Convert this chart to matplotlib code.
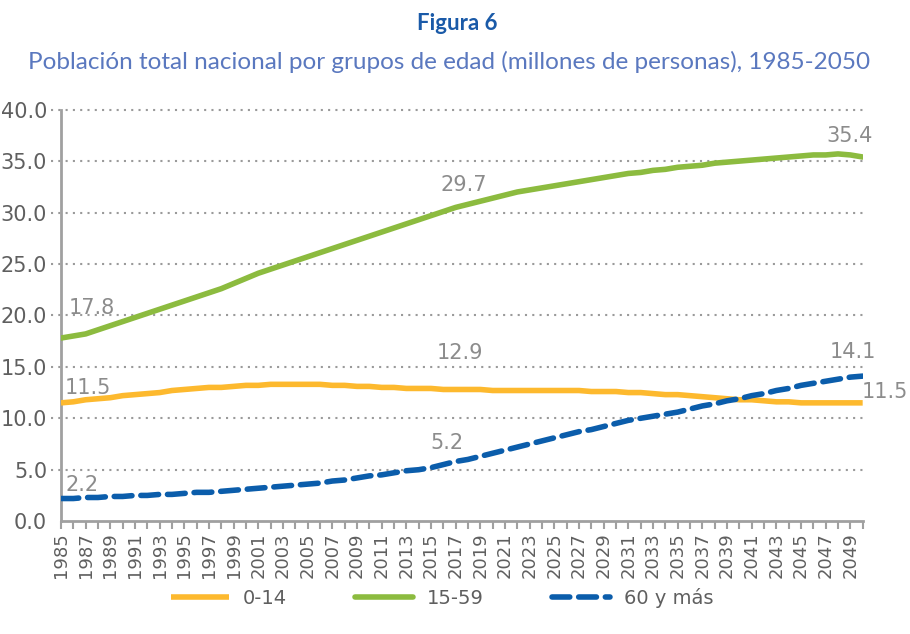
import numpy as np
import matplotlib
matplotlib.use("Agg")
import matplotlib.pyplot as plt

# Datos (millones de personas)
years = list(range(1985, 2051))

edad_0_14 = [11.5, 11.6, 11.8, 11.9, 12.0, 12.2, 12.3, 12.4, 12.5, 12.7,
             12.8, 12.9, 13.0, 13.0, 13.1, 13.2, 13.2, 13.3, 13.3, 13.3,
             13.3, 13.3, 13.2, 13.2, 13.1, 13.1, 13.0, 13.0, 12.9, 12.9,
             12.9, 12.8, 12.8, 12.8, 12.8, 12.7, 12.7, 12.7, 12.7, 12.7,
             12.7, 12.7, 12.7, 12.6, 12.6, 12.6, 12.5, 12.5, 12.4, 12.3,
             12.3, 12.2, 12.1, 12.0, 11.9, 11.8, 11.8, 11.7, 11.6, 11.6,
             11.5, 11.5, 11.5, 11.5, 11.5, 11.5]

edad_15_59 = [17.8, 18.0, 18.2, 18.6, 19.0, 19.4, 19.8, 20.2, 20.6, 21.0,
              21.4, 21.8, 22.2, 22.6, 23.1, 23.6, 24.1, 24.5, 24.9, 25.3,
              25.7, 26.1, 26.5, 26.9, 27.3, 27.7, 28.1, 28.5, 28.9, 29.3,
              29.7, 30.1, 30.5, 30.8, 31.1, 31.4, 31.7, 32.0, 32.2, 32.4,
              32.6, 32.8, 33.0, 33.2, 33.4, 33.6, 33.8, 33.9, 34.1, 34.2,
              34.4, 34.5, 34.6, 34.8, 34.9, 35.0, 35.1, 35.2, 35.3, 35.4,
              35.5, 35.6, 35.6, 35.7, 35.6, 35.4]

edad_60_mas = [2.2, 2.2, 2.3, 2.3, 2.4, 2.4, 2.5, 2.5, 2.6, 2.6,
               2.7, 2.8, 2.8, 2.9, 3.0, 3.1, 3.2, 3.3, 3.4, 3.5,
               3.6, 3.7, 3.9, 4.0, 4.2, 4.4, 4.5, 4.7, 4.9, 5.0,
               5.2, 5.5, 5.8, 6.0, 6.3, 6.6, 6.9, 7.2, 7.5, 7.8,
               8.1, 8.4, 8.7, 8.9, 9.2, 9.5, 9.8, 10.0, 10.2, 10.4,
               10.6, 10.9, 11.2, 11.4, 11.7, 11.9, 12.2, 12.4, 12.7, 12.9,
               13.2, 13.4, 13.6, 13.8, 14.0, 14.1]

tick_years = list(range(1985, 2050, 2))

gray = "#5f5f5f"
label_gray = "#8c8c8c"
c_orange = "#FDB92E"
c_green = "#8CBB3F"
c_blue = "#0B5DAB"

fig = plt.figure(figsize=(9.1, 6.34), dpi=100)
ax = fig.add_axes([0.067, 0.178, 0.881, 0.649])

# Líneas
ax.plot(years, edad_0_14, color=c_orange, lw=4, solid_capstyle="butt", label="0-14", zorder=3)
ax.plot(years, edad_15_59, color=c_green, lw=4, solid_capstyle="round", label="15-59", zorder=3)
ax.plot(years, edad_60_mas, color=c_blue, lw=4, ls=(0, (3.2, 1.6)), dash_capstyle="round",
        label="60 y más", zorder=3)

# Cuadrícula punteada
for v in np.arange(5, 45, 5):
    ax.axhline(v, xmin=-0.012, xmax=1.0, color="#9a9a9a", ls=(0, (1, 2.5)), lw=1.5,
               clip_on=False, zorder=1)

ax.set_xlim(1985, 2050)
ax.set_ylim(0, 40)
ax.set_yticks(np.arange(0, 45, 5))
ax.set_yticklabels([f"{v:.1f}" for v in np.arange(0, 45, 5)])
ax.set_xticks(tick_years)
ax.set_xticklabels([str(y) for y in tick_years], rotation=90)
ax.set_xticks(years, minor=True)

for s in ["top", "right"]:
    ax.spines[s].set_visible(False)
for s in ["left", "bottom"]:
    ax.spines[s].set_color("#a0a0a0")
    ax.spines[s].set_linewidth(2)

ax.tick_params(axis="y", length=0, pad=10, labelsize=15, labelcolor=gray)
ax.tick_params(axis="x", which="both", direction="out", length=6, width=1.5,
               color="#a0a0a0", labelsize=13, labelcolor=gray, pad=2)
ax.tick_params(axis="x", which="minor", labelbottom=False)

# Etiquetas de datos (desplazamientos en píxeles)
labels = [
    (edad_15_59, 1985, 31, 30), (edad_0_14, 1985, 27, 15), (edad_60_mas, 1985, 21, 14),
    (edad_15_59, 2015, 33, 31), (edad_0_14, 2015, 29, 35), (edad_60_mas, 2015, 16, 25),
    (edad_15_59, 2050, -13, 21), (edad_60_mas, 2050, -10, 24), (edad_0_14, 2050, 22, 11),
]
for serie, yr, dx, dy in labels:
    val = serie[years.index(yr)]
    ax.annotate(f"{val:.1f}", (yr, val), xytext=(dx, dy), textcoords="offset pixels",
                ha="center", va="center", fontsize=15, color=label_gray,
                annotation_clip=False, zorder=4)

# Títulos
fig.text(0.503, 0.963, "Figura 6", ha="center", va="center", fontsize=16,
         fontweight="bold", color="#1a5aa8", family="Lato")
fig.text(0.493, 0.902, "Población total nacional por grupos de edad (millones de personas), 1985-2050",
         ha="center", va="center", fontsize=17.5, color="#5a78bf", family="Lato")

fig.legend(loc="center", bbox_to_anchor=(0.486, 0.057), ncol=3, frameon=False,
           fontsize=14, labelcolor=gray, handlelength=3.0, columnspacing=3.5, handletextpad=0.7)

fig.savefig("out.png", dpi=100)
